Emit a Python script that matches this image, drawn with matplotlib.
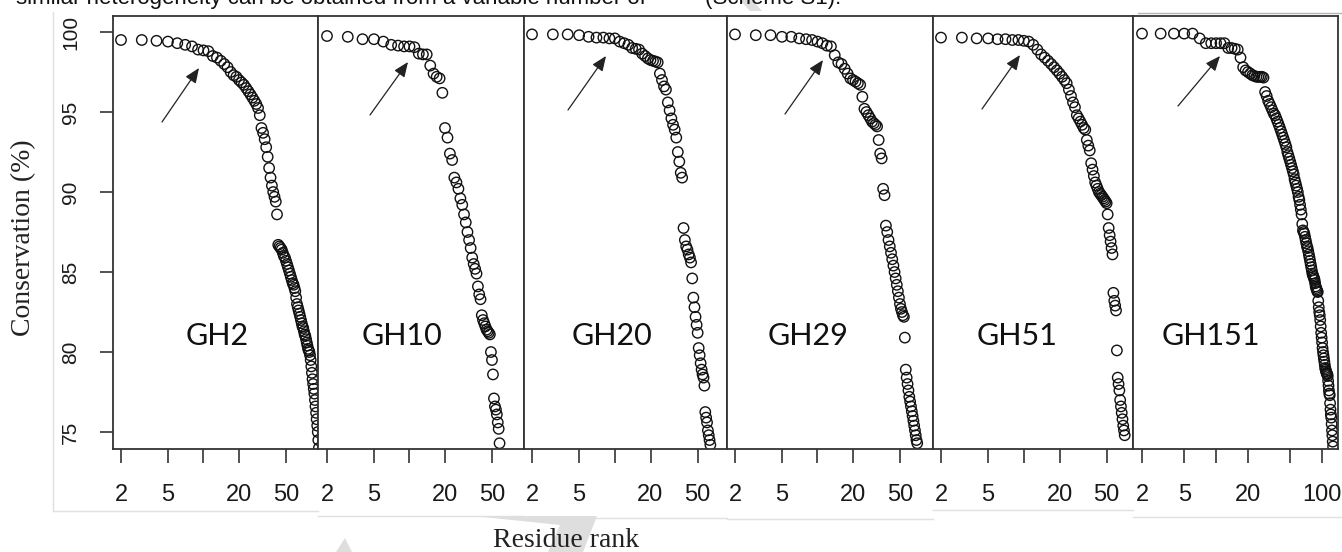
import numpy as np
import matplotlib
matplotlib.use("Agg")
import matplotlib.pyplot as plt
from matplotlib.patches import Polygon, FancyArrowPatch
from matplotlib.lines import Line2D
from matplotlib.ticker import NullLocator

# ---------------- data ----------------
families = ["GH2", "GH10", "GH20", "GH29", "GH51", "GH151"]
first_rank = 2

gh2 = [99.5, 99.5, 99.45, 99.4, 99.3, 99.2, 99.1, 98.9, 98.85, 98.8, 98.5, 98.4,
       98.2, 98.0, 97.8, 97.5, 97.3, 97.2, 97.0, 96.85, 96.7, 96.5, 96.3, 96.1,
       95.9, 95.7, 95.5, 95.25, 94.8, 94.0, 93.7, 93.3, 92.8, 92.2, 91.5, 90.9,
       90.4, 90.0, 89.7, 89.4, 88.6,
       86.7, 86.6, 86.5, 86.4, 86.2, 86.0, 85.9, 85.7, 85.5, 85.3, 85.1, 84.9,
       84.7, 84.5, 84.3, 84.2, 84.0, 83.8, 83.4, 83.0, 82.8, 82.6, 82.4, 82.2,
       82.0, 81.8, 81.6, 81.5, 81.3, 81.1, 81.0, 80.8, 80.6, 80.4, 80.2, 80.1,
       80.0, 79.8, 79.5, 79.1, 78.7, 78.3, 78.0, 77.7, 77.4, 77.0, 76.6, 76.2,
       75.8, 75.4, 75.0, 74.5, 74.0]

gh10 = [99.75, 99.7, 99.55, 99.55, 99.4, 99.2, 99.15, 99.1, 99.1, 99.05, 98.65,
        98.6, 98.6, 97.9, 97.4, 97.2, 97.1, 96.2, 94.0, 93.4, 92.4, 92.0, 90.9,
        90.6, 90.2, 89.6, 89.2, 88.6, 88.1, 87.5, 87.0, 86.5, 85.9, 85.5, 85.2,
        84.9, 84.1, 83.6, 83.3, 82.3, 82.0, 81.8, 81.6, 81.4, 81.3, 81.2, 81.1,
        80.0, 79.5, 78.6, 77.1, 76.6, 76.4, 76.1, 75.6, 75.2, 74.3, 73.0, 71.5]

gh20 = [99.85, 99.85, 99.85, 99.8, 99.7, 99.65, 99.65, 99.6, 99.6, 99.4, 99.3,
        99.2, 99.0, 98.95, 98.9, 98.65, 98.5, 98.35, 98.25, 98.2, 98.15, 98.1,
        97.4, 97.0, 96.6, 96.4, 95.6, 95.1, 94.6, 94.2, 93.9, 93.4, 92.5, 91.9,
        91.2, 90.9, 87.75, 87.0, 86.6, 86.4, 86.1, 85.9, 85.6, 84.6, 83.4, 82.8,
        82.2, 81.7, 81.2, 80.25, 79.8, 79.3, 78.9, 78.6, 78.4, 77.9, 76.25, 75.9,
        75.6, 75.1, 74.8, 74.5, 74.2, 73.0, 71.0]

gh29 = [99.85, 99.8, 99.8, 99.7, 99.7, 99.6, 99.55, 99.5, 99.4, 99.3, 99.15,
        99.1, 98.55, 98.1, 98.0, 97.7, 97.4, 97.1, 97.0, 96.9, 96.8, 96.7, 95.95,
        95.2, 95.0, 94.8, 94.6, 94.4, 94.3, 94.2, 94.1, 93.25, 92.4, 92.1, 90.2,
        89.8, 87.9, 87.5, 87.0, 86.6, 86.2, 85.8, 85.4, 85.0, 84.6, 84.2, 83.8,
        83.4, 83.0, 82.7, 82.5, 82.3, 82.2, 80.9, 78.9, 78.4, 78.0, 77.6, 77.2,
        76.9, 76.6, 76.3, 76.0, 75.7, 75.4, 75.1, 74.8, 74.5, 74.3, 73.5, 72.5]

gh51 = [99.65, 99.65, 99.6, 99.6, 99.55, 99.55, 99.5, 99.5, 99.45, 99.4, 99.2,
        98.9, 98.6, 98.4, 98.2, 98.0, 97.8, 97.6, 97.4, 97.2, 97.0, 96.8, 96.4,
        96.0, 95.6, 95.3, 94.8, 94.6, 94.4, 94.2, 94.0, 93.9, 93.25, 92.9, 92.6,
        91.8, 91.4, 91.0, 90.6, 90.4, 90.2, 90.0, 89.9, 89.8, 89.7, 89.6, 89.5,
        89.4, 89.3, 88.6, 87.75, 87.3, 86.9, 86.5, 86.1, 83.7, 83.2, 82.9, 82.6,
        80.1, 78.4, 78.0, 77.6, 77.0, 76.6, 76.2, 75.8, 75.4, 75.1, 74.8, 73.5]

gh151 = [99.9, 99.9, 99.9, 99.9, 99.9, 99.6, 99.3, 99.3, 99.3, 99.3, 99.3, 99.0,
         99.0, 98.95, 98.9, 98.4, 97.8, 97.6, 97.5, 97.4, 97.3, 97.25, 97.2, 97.2,
         97.2, 97.2, 97.15, 96.25, 96.0, 95.7, 95.5, 95.3, 95.1, 94.9, 94.8, 94.6,
         94.4, 94.2, 94.0, 93.8, 93.6, 93.4, 93.2, 93.0, 92.8, 92.5, 92.3, 92.1,
         91.9, 91.7, 91.5, 91.3, 91.1, 90.8, 90.6, 90.4, 90.2, 90.0, 89.7, 89.5,
         89.2, 88.9, 88.6, 88.0, 87.6, 87.5, 87.4, 87.2, 87.0, 86.8, 86.6, 86.5,
         86.3, 86.1, 85.9, 85.7, 85.5, 85.3, 85.1, 84.9, 84.8, 84.7, 84.6, 84.5,
         84.3, 84.1, 84.0, 83.9, 83.8, 83.75, 83.2, 82.8, 82.5, 82.3, 82.0, 81.6,
         81.2, 80.9, 80.6, 80.25, 80.0, 79.8, 79.6, 79.4, 79.2, 79.0, 78.9, 78.8,
         78.7, 78.65, 78.6, 78.5, 78.2, 77.9, 77.6, 77.4, 77.3, 76.8, 76.4, 76.1,
         75.9, 75.5, 75.1, 74.8, 74.4, 74.1, 73.5, 72.8, 72.0]

series = [gh2, gh10, gh20, gh29, gh51, gh151]

x_ticks = [2, 5, 10, 20, 50]
x_ticklabels = ["2", "5", "", "20", "50"]
x_ticks_last = [2, 5, 10, 20, 50, 100]
x_ticklabels_last = ["2", "5", "", "20", "", "100"]
y_ticks = [75, 80, 85, 90, 95, 100]
y_ticklabels = ["75", "80", "85", "90", "95", "100"]

title_text = "similar heterogeneity can be obtained from a variable number of"
title_text2 = "(Scheme S1)."
y_label = "Conservation (%)"
x_label = "Residue rank"

# ---------------- layout (pixels) ----------------
W, H = 1342, 552
TOP, BOTTOM = 16, 449
Y_LO, Y_HI = 73.94, 101.0
# (left px, right px, px of rank 2, px per decade)
panels = [(113, 318, 121, 118.0), (318, 524, 327, 118.0), (524, 727, 532, 118.5),
          (727, 933, 735, 118.0), (933, 1133, 941, 118.5), (1133, 1338, 1142, 106.0)]
label_pos = [(217, 336), (402, 336), (612, 336), (808, 336), (1017, 336), (1211, 336)]
arrows = [((162, 122), (199, 68)), ((370, 115), (408, 62)), ((568, 110), (606, 56)),
          ((785, 114), (823, 60)), ((982, 109), (1020, 55)), ((1178, 106), (1220, 56))]

SANS = ["Liberation Sans", "DejaVu Sans"]
SERIF = ["Liberation Serif", "DejaVu Serif"]
LABEL_FONT = ["Lato", "DejaVu Sans"]
FRAME = "#333333"

fig = plt.figure(figsize=(W / 100, H / 100), dpi=100)
fig.patch.set_facecolor("white")


def fx(x):
    return x / W


def fy(y):
    return 1 - y / H


# light grey borders of the pasted images and faint watermark shapes
border_lines = [((53, 53), (12, 511)), ((53, 318), (511, 511)), ((318, 524), (516, 516)),
                ((524, 727), (518, 518)), ((727, 933), (519, 519)), ((933, 1133), (510, 510)),
                ((1133, 1342), (517, 517))]
for (xa, xb), (ya, yb) in border_lines:
    fig.add_artist(Line2D([fx(xa), fx(xb)], [fy(ya), fy(yb)], color="#e0e0e0", lw=1.0, zorder=0))
fig.add_artist(Line2D([fx(1138), fx(1342)], [fy(13), fy(13)], color="#b4b4b4", lw=1.0, zorder=0))

wm_shapes = [[(473, 516), (597, 516), (583, 552), (548, 552), (560, 525)],
             [(336, 552), (345, 538), (352, 552)],
             [(740, 0), (752, 0), (762, 11), (750, 11)]]
for pts in wm_shapes:
    fig.add_artist(Polygon([(fx(a), fy(b)) for a, b in pts], closed=True,
                           facecolor="#dedede", edgecolor="none", zorder=0,
                           transform=fig.transFigure))

for i, (vals, (x0, x1, x2, ppd)) in enumerate(zip(series, panels)):
    ax = fig.add_axes([fx(x0), fy(BOTTOM), (x1 - x0) / W, (BOTTOM - TOP) / H])
    ax.set_facecolor("white")
    ranks = np.arange(first_rank, first_rank + len(vals))
    ax.scatter(ranks, vals, s=56, facecolors="none", edgecolors="#111111", linewidths=1.0)
    ax.set_xscale("log")
    ax.set_xlim(2 * 10 ** ((x0 - x2) / ppd), 2 * 10 ** ((x1 - x2) / ppd))
    ax.set_ylim(Y_LO, Y_HI)
    if i == len(series) - 1:
        ax.set_xticks(x_ticks_last)
        ax.set_xticklabels(x_ticklabels_last)
    else:
        ax.set_xticks(x_ticks)
        ax.set_xticklabels(x_ticklabels)
    ax.xaxis.set_minor_locator(NullLocator())
    ax.tick_params(axis="x", direction="out", length=10, width=1.2, pad=15,
                   labelsize=17, colors=FRAME, labelcolor="#1a1a1a")
    for lab in ax.get_xticklabels():
        lab.set_family(SANS)
    if i == 0:
        ax.set_yticks(y_ticks)
        ax.set_yticklabels(y_ticklabels, rotation=90, va="center")
        ax.tick_params(axis="y", direction="out", length=9.5, width=1.2, pad=14,
                       labelsize=15, colors=FRAME, labelcolor="#1a1a1a")
        for lab in ax.get_yticklabels():
            lab.set_family(SANS)
    else:
        ax.set_yticks([])
    for sp in ax.spines.values():
        sp.set_color(FRAME)
        sp.set_linewidth(1.3)

    lx, ly = label_pos[i]
    fig.text(fx(lx), fy(ly), families[i], ha="center", va="center",
             fontsize=22, family=LABEL_FONT, color="#111111")

    (ax0, ay0), (ax1, ay1) = arrows[i]
    fig.add_artist(FancyArrowPatch((fx(ax0), fy(ay0)), (fx(ax1), fy(ay1)),
                                   transform=fig.transFigure,
                                   arrowstyle="-|>,head_length=0.6,head_width=0.25",
                                   mutation_scale=15, lw=0.9, color="#222222",
                                   shrinkA=0, shrinkB=0, zorder=5))

fig.text(fx(24), fy(238), y_label, rotation=90, ha="center", va="center",
         fontsize=20, family=SERIF, color="#222222")
fig.text(fx(566), fy(547), x_label, ha="center", va="baseline",
         fontsize=20, family=SERIF, color="#222222")
fig.text(fx(16), fy(4), title_text, ha="left", va="baseline",
         fontsize=16, family=SANS, color="#111111")
fig.text(fx(705), fy(4), title_text2, ha="left", va="baseline",
         fontsize=16, family=SANS, color="#111111")

fig.savefig("out.png", dpi=100, facecolor="white")
